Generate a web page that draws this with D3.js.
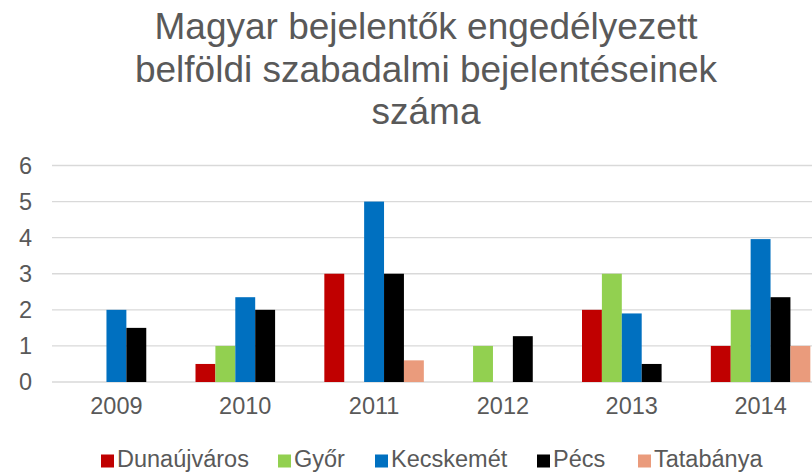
<!DOCTYPE html>
<html lang="hu">
<head>
<meta charset="UTF-8">
<title>Magyar bejelentők</title>
<style>
  body { margin: 0; background: #fff; }
  text { font-family: "Liberation Sans", Arial, sans-serif; fill: #595959; }
</style>
</head>
<body>
<div id="chart"></div>
<script src="https://cdn.jsdelivr.net/npm/d3@7"></script>
<script>
const years = ["2009", "2010", "2011", "2012", "2013", "2014"];
const cities = ["Dunaújváros", "Győr", "Kecskemét", "Pécs", "Tatabánya"];
const colors = ["#C00000", "#92D050", "#0070C0", "#000000", "#EA9B7C"];
const dunaujvaros = [0, 0.5, 3, 0, 2, 1];
const gyor = [0, 1, 0, 1, 3, 2];
const kecskemet = [2, 2.35, 5, 0, 1.9, 3.96];
const pecs = [1.5, 2, 3, 1.27, 0.5, 2.35];
const tatabanya = [0, 0, 0.6, 0, 0, 1];
const yTicks = [0, 1, 2, 3, 4, 5, 6];
const titleLines = ["Magyar bejelentők engedélyezett", "belföldi szabadalmi bejelentéseinek", "száma"];

const series = [dunaujvaros, gyor, kecskemet, pecs, tatabanya];

const width = 812, height = 473;
const margin = {top: 165.5, left: 52, bottom: 91, right: -13};

const svg = d3.select("#chart").append("svg")
    .attr("width", width)
    .attr("height", height);

const innerW = width - margin.left - margin.right;
const innerH = height - margin.top - margin.bottom;

const x0 = d3.scaleBand().domain(years).range([0, innerW]);
const gap = x0.bandwidth() - 5 * 19.9;
const x1 = d3.scaleBand().domain(cities).range([gap / 2, x0.bandwidth() - gap / 2]);
const y = d3.scaleLinear().domain([0, 6]).range([innerH, 0]);

// title
svg.append("g").selectAll("text")
    .data(titleLines)
    .join("text")
    .attr("x", 426)
    .attr("y", (d, i) => 39 + i * 42.5)
    .attr("text-anchor", "middle")
    .style("font-size", "37px")
    .text(d => d);

const g = svg.append("g").attr("transform", `translate(${margin.left},${margin.top})`);

// grid
g.append("g").selectAll("line")
    .data(yTicks)
    .join("line")
    .attr("x1", 0).attr("x2", innerW)
    .attr("y1", d => y(d)).attr("y2", d => y(d))
    .style("stroke", "#D9D9D9")
    .style("stroke-width", 1.3);

// y axis labels
const yAxis = d3.axisLeft(y).tickValues(yTicks).tickFormat(d3.format("d")).tickSize(0).tickPadding(20);
g.append("g").call(yAxis)
    .call(s => s.select(".domain").remove())
    .selectAll("text")
    .style("font-size", "23.5px")
    .style("font-family", "Liberation Sans, Arial, sans-serif")
    .attr("fill", "#595959");

// x axis labels
const xAxis = d3.axisBottom(x0).tickSize(0).tickPadding(15);
g.append("g").attr("transform", `translate(0,${innerH})`).call(xAxis)
    .call(s => s.select(".domain").remove())
    .selectAll("text")
    .style("font-size", "23.5px")
    .style("font-family", "Liberation Sans, Arial, sans-serif")
    .attr("fill", "#595959");

// bars
const groups = g.append("g").selectAll("g")
    .data(years)
    .join("g")
    .attr("transform", d => `translate(${x0(d)},0)`);

groups.selectAll("rect")
    .data((yr, yi) => cities.map((c, ci) => ({city: c, ci: ci, v: series[ci][yi]})))
    .join("rect")
    .attr("x", d => x1(d.city))
    .attr("width", x1.bandwidth())
    .attr("y", d => y(d.v))
    .attr("height", d => innerH - y(d.v))
    .style("fill", d => colors[d.ci]);

// legend
const legendX = [101, 278, 375, 537, 638];
const legend = svg.append("g").attr("transform", "translate(0,467)");
const items = legend.selectAll("g")
    .data(cities)
    .join("g")
    .attr("transform", (d, i) => `translate(${legendX[i]},0)`);
items.append("rect")
    .attr("x", 0).attr("y", -12.5)
    .attr("width", 13).attr("height", 13)
    .style("fill", (d, i) => colors[i]);
items.append("text")
    .attr("x", 16).attr("y", 0)
    .style("font-size", "23.5px")
    .text(d => d);
</script>
</body>
</html>
